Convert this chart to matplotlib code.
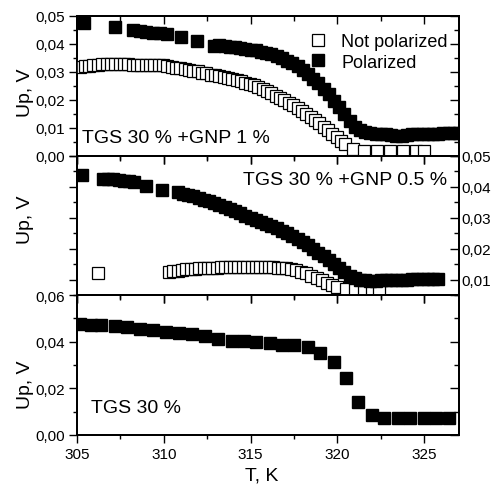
import matplotlib
matplotlib.use("Agg")
import matplotlib.pyplot as plt
from matplotlib.ticker import MultipleLocator, FuncFormatter

plt.rcParams['font.family'] = ['Liberation Sans', 'DejaVu Sans']

# ---------------- data ----------------
# Top panel: TGS 30 % + GNP 1 %
top_np_T = [305.2, 305.45, 305.7, 305.95, 306.2, 306.45, 306.7, 306.95, 307.2, 307.45,
            307.7, 307.95, 308.2, 308.45, 308.7, 308.95, 309.2, 309.45, 309.7, 309.95,
            310.2, 310.45, 310.7, 310.95, 311.2, 311.45, 311.7, 311.95, 312.2, 312.45,
            312.7, 312.95, 313.2, 313.45, 313.7, 313.95, 314.2, 314.45, 314.7, 314.95,
            315.2, 315.45, 315.7, 315.95, 316.2, 316.45, 316.7, 316.95, 317.2, 317.45,
            317.7, 317.95, 318.2, 318.45, 318.7, 318.95, 319.2, 319.45, 319.7, 319.95,
            320.2, 320.45, 320.9, 321.5, 322.3, 323.0, 323.8, 324.5, 325.0]
top_np_U = [0.0318, 0.0321, 0.0323, 0.0325, 0.0326, 0.0327, 0.0327, 0.0328, 0.0328, 0.0328,
            0.0327, 0.0327, 0.0326, 0.0326, 0.0326, 0.0326, 0.0326, 0.0326, 0.0326, 0.0325,
            0.0322, 0.0319, 0.0316, 0.0313, 0.0310, 0.0307, 0.0305, 0.0302, 0.0298, 0.0295,
            0.0291, 0.0288, 0.0285, 0.0282, 0.0279, 0.0275, 0.0271, 0.0267, 0.0262, 0.0258,
            0.0252, 0.0245, 0.0238, 0.0231, 0.0224, 0.0216, 0.0208, 0.0199, 0.0190, 0.0181,
            0.0171, 0.0161, 0.0151, 0.0140, 0.0129, 0.0117, 0.0104, 0.0092, 0.0080, 0.0068,
            0.0055, 0.0043, 0.0025, 0.0018, 0.0017, 0.0017, 0.0017, 0.0017, 0.0017]
top_p_T = [305.4, 307.2, 308.2, 308.6, 309.0, 309.4, 309.8, 310.2, 311.0, 311.9,
           312.9, 313.2, 313.5, 313.8, 314.1, 314.4, 314.7, 315.0, 315.3, 315.6,
           315.9, 316.2, 316.5, 316.8, 317.1, 317.4, 317.7, 318.0, 318.3, 318.6,
           318.9, 319.2, 319.5, 319.8, 320.1, 320.4, 320.7, 321.0, 321.3, 321.6,
           321.9, 322.2, 322.5, 322.8, 323.1, 323.4, 323.7, 324.0, 324.3, 324.6,
           324.9, 325.2, 325.5, 325.8, 326.1, 326.4, 326.7, 327.0]
top_p_U = [0.0475, 0.0460, 0.0450, 0.0447, 0.0444, 0.0441, 0.0438, 0.0436, 0.0424, 0.0412,
           0.0394, 0.0396, 0.0394, 0.0391, 0.0389, 0.0386, 0.0383, 0.0380, 0.0377, 0.0373,
           0.0369, 0.0364, 0.0358, 0.0350, 0.0341, 0.0331, 0.0320, 0.0306, 0.0292, 0.0276,
           0.0259, 0.0240, 0.0220, 0.0198, 0.0175, 0.0150, 0.0125, 0.0105, 0.0092, 0.0085,
           0.0082, 0.0080, 0.0079, 0.0077, 0.0074, 0.0072, 0.0073, 0.0076, 0.0078, 0.0079,
           0.0079, 0.0079, 0.0080, 0.0080, 0.0081, 0.0081, 0.0082, 0.0082]

# Middle panel: TGS 30 % + GNP 0.5 %
mid_np_T = [306.2, 310.3, 310.55, 310.8, 311.05, 311.3, 311.55, 311.8, 312.05, 312.3,
            312.55, 312.8, 313.05, 313.3, 313.55, 313.8, 314.05, 314.3, 314.55, 314.8,
            315.05, 315.3, 315.55, 315.8, 316.05, 316.3, 316.55, 316.8, 317.05, 317.3,
            317.6, 317.9, 318.2, 318.5, 318.8, 319.1, 319.4, 319.7, 320.0, 320.5,
            321.0, 321.5, 322.0, 322.4]
mid_np_U = [0.0121, 0.0125, 0.0127, 0.0129, 0.0131, 0.0133, 0.0134, 0.0135, 0.0136, 0.0137,
            0.0138, 0.0139, 0.0139, 0.0140, 0.0140, 0.0141, 0.0141, 0.0141, 0.0141, 0.0141,
            0.0141, 0.0141, 0.0141, 0.0141, 0.0140, 0.0140, 0.0139, 0.0138, 0.0137, 0.0135,
            0.0131, 0.0126, 0.0120, 0.0113, 0.0105, 0.0097, 0.0089, 0.0082, 0.0076, 0.0070,
            0.0068, 0.0068, 0.0068, 0.0068]
mid_p_T = [305.3, 306.5, 306.8, 307.1, 307.4, 307.7, 308.0, 308.3, 309.0, 309.9,
           310.8, 311.1, 311.4, 311.7, 312.0, 312.3, 312.6, 312.9, 313.2, 313.5,
           313.8, 314.1, 314.4, 314.7, 315.0, 315.3, 315.6, 315.9, 316.2, 316.5,
           316.8, 317.1, 317.4, 317.7, 318.0, 318.3, 318.6, 318.9, 319.2, 319.5,
           319.8, 320.1, 320.4, 320.7, 321.0, 321.3, 321.6, 321.9, 322.2, 322.5,
           322.8, 323.1, 323.4, 323.7, 324.0, 324.3, 324.6, 324.9, 325.2, 325.5, 325.8]
mid_p_U = [0.0439, 0.0427, 0.0427, 0.0426, 0.0423, 0.0420, 0.0418, 0.0415, 0.0404, 0.0389,
           0.0382, 0.0378, 0.0374, 0.0369, 0.0364, 0.0359, 0.0353, 0.0347, 0.0341, 0.0335,
           0.0329, 0.0322, 0.0315, 0.0307, 0.0299, 0.0293, 0.0287, 0.0280, 0.0273, 0.0266,
           0.0258, 0.0250, 0.0241, 0.0232, 0.0222, 0.0211, 0.0199, 0.0187, 0.0175, 0.0162,
           0.0149, 0.0136, 0.0123, 0.0112, 0.0104, 0.0099, 0.0097, 0.0096, 0.0096, 0.0097,
           0.0098, 0.0099, 0.0099, 0.0100, 0.0100, 0.0101, 0.0101, 0.0101, 0.0101, 0.0101, 0.0101]

# Bottom panel: TGS 30 %
bot_T = [305.15, 305.8, 306.4, 307.2, 307.9, 308.6, 309.4, 310.1, 310.9, 311.6,
         312.4, 313.1, 313.9, 314.6, 315.3, 316.1, 316.8, 317.5, 318.3, 319.0,
         319.8, 320.5, 321.2, 322.0, 322.7, 323.5, 324.2, 325.0, 325.7, 326.4]
bot_U = [0.0475, 0.0473, 0.0470, 0.0468, 0.0462, 0.0456, 0.0450, 0.0442, 0.0436, 0.0432,
         0.0426, 0.0412, 0.0405, 0.0403, 0.0400, 0.0396, 0.0385, 0.0385, 0.0378, 0.0350,
         0.0315, 0.0245, 0.0143, 0.0086, 0.0073, 0.0073, 0.0073, 0.0073, 0.0073, 0.0073]

labels_panel = ["TGS 30 % +GNP 1 %", "TGS 30 % +GNP 0.5 %", "TGS 30 %"]
legend_labels = ["Not polarized", "Polarized"]
x_ticks = [305, 310, 315, 320, 325]

# ---------------- figure ----------------
W, H = 497, 489
fig = plt.figure(figsize=(W / 100, H / 100), dpi=100)
L, R = 77 / W, 459 / W
def box(ytop, ybot):
    return [L, 1 - ybot / H, R - L, (ybot - ytop) / H]

ax_top = fig.add_axes(box(17, 157))
ax_mid = fig.add_axes(box(157, 296))
ax_bot = fig.add_axes(box(296, 436))

fmt = FuncFormatter(lambda v, p: f"{v:.2f}".replace('.', ','))
ms = 8.3
TICK_FS = 11
TXT_FS = 14

def style(ax, ylim, ymaj, ymin, left_labels, right_labels, bottom_labels):
    ax.set_xlim(305, 327)
    ax.set_ylim(*ylim)
    ax.xaxis.set_major_locator(MultipleLocator(5))
    ax.xaxis.set_minor_locator(MultipleLocator(2.5))
    ax.yaxis.set_major_locator(MultipleLocator(ymaj))
    ax.yaxis.set_minor_locator(MultipleLocator(ymin))
    ax.yaxis.set_major_formatter(fmt)
    ax.tick_params(which='both', direction='out', top=False, right=False,
                   labelleft=left_labels, labelbottom=bottom_labels,
                   labelsize=TICK_FS, width=1.0, pad=2.5)
    ax.tick_params(which='major', length=6)
    ax.tick_params(which='minor', length=3)
    for s in ax.spines.values():
        s.set_linewidth(1.2)
    # inward ticks on right
    axr = ax.twinx()
    axr.set_ylim(*ylim)
    axr.yaxis.set_major_locator(MultipleLocator(ymaj))
    axr.yaxis.set_minor_locator(MultipleLocator(ymin))
    axr.yaxis.set_major_formatter(fmt)
    axr.tick_params(which='both', direction='in', labelright=right_labels,
                    labelsize=TICK_FS, width=1.0, pad=2)
    axr.tick_params(which='major', length=6.5)
    axr.tick_params(which='minor', length=3.5)
    # inward ticks on top
    axt = ax.twiny()
    axt.set_xlim(305, 327)
    axt.xaxis.set_major_locator(MultipleLocator(5))
    axt.xaxis.set_minor_locator(MultipleLocator(2.5))
    axt.tick_params(which='both', direction='in', labeltop=False, width=1.0)
    axt.tick_params(which='major', length=6)
    axt.tick_params(which='minor', length=3.5)
    for a in (axr, axt):
        for s in a.spines.values():
            s.set_linewidth(1.2)
        a.set_zorder(ax.get_zorder() - 1)
    ax.patch.set_visible(False)

# top panel
style(ax_top, (0, 0.05), 0.01, 0.005, True, False, False)
h_np, = ax_top.plot(top_np_T, top_np_U, 's', ms=ms, mfc='white', mec='black', mew=0.9,
                    label=legend_labels[0])
h_p, = ax_top.plot(top_p_T, top_p_U, 's', ms=ms, mfc='black', mec='black',
                   label=legend_labels[1])
ax_top.legend(handles=[h_np, h_p], loc='upper right', frameon=False, fontsize=13,
              handlelength=1.0, handletextpad=0.8, labelspacing=0.2,
              bbox_to_anchor=(0.99, 0.93), borderaxespad=0.0)
ax_top.text(0.013, 0.13, labels_panel[0], transform=ax_top.transAxes,
            fontsize=TXT_FS, ha='left', va='center')

# middle panel
style(ax_mid, (0.005, 0.05), 0.01, 0.005, False, True, False)
ax_mid.plot(mid_np_T, mid_np_U, 's', ms=ms, mfc='white', mec='black', mew=0.9)
ax_mid.plot(mid_p_T, mid_p_U, 's', ms=ms, mfc='black', mec='black')
ax_mid.text(0.969, 0.83, labels_panel[1], transform=ax_mid.transAxes,
            fontsize=TXT_FS, ha='right', va='center')

# bottom panel
style(ax_bot, (0, 0.06), 0.02, 0.01, True, False, True)
ax_bot.plot(bot_T, bot_U, 's', ms=ms, mfc='black', mec='black')
ax_bot.set_xticks(x_ticks)
ax_bot.text(0.036, 0.193, labels_panel[2], transform=ax_bot.transAxes,
            fontsize=TXT_FS, ha='left', va='center')

# axis labels
for yc in (93, 220, 385):
    fig.text(25 / W, 1 - yc / H, "Up, V", rotation=90, ha='center', va='center', fontsize=TXT_FS)
fig.text(262 / W, 1 - 476 / H, "T, K", ha='center', va='center', fontsize=TXT_FS)

fig.savefig("out.png", dpi=100)
